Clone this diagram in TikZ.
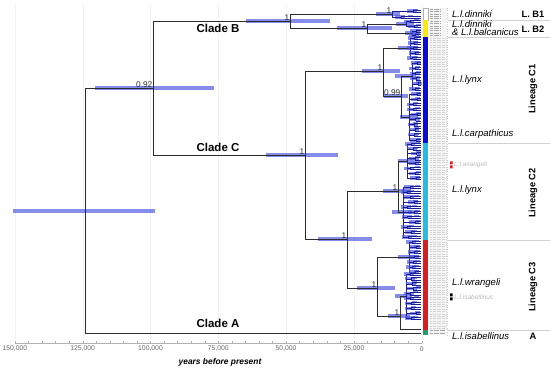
\documentclass[tikz,border=0pt]{standalone}
\usepackage{fontspec}
\setmainfont{Liberation Sans}
\definecolor{barc}{RGB}{75,85,222}
\definecolor{linec}{RGB}{45,45,45}
\definecolor{tipc}{RGB}{25,30,150}
\definecolor{stripblue}{RGB}{10,10,220}
\definecolor{stripcyan}{RGB}{30,190,230}
\definecolor{stripred}{RGB}{225,25,30}
\definecolor{stripyel}{RGB}{250,235,0}
\definecolor{stripgrn}{RGB}{30,160,100}
\tikzset{
 br/.style={draw=linec, line width=0.8pt},
 tipl/.style={draw=tipc, line width=0.45pt},
 cib/.style={fill=barc, fill opacity=0.68},
 supp/.style={font=\fontsize{8.3}{8}\selectfont, text=linec, inner sep=0.5pt, anchor=south east},
 clade/.style={font=\fontsize{11.5}{12}\selectfont\bfseries, inner sep=0},
 taxon/.style={font=\fontsize{9.5}{8.5}\selectfont\itshape, anchor=west, inner sep=0, align=left},
 minortax/.style={font=\fontsize{6.5}{7}\selectfont\itshape, text=gray!55, anchor=west, inner sep=0},
 lin/.style={font=\fontsize{9.3}{10}\selectfont\bfseries, inner sep=0},
 axl/.style={font=\fontsize{6.8}{7}\selectfont, text=gray!80!black, inner sep=0},
 sepl/.style={draw=gray!35, line width=0.4pt},
}
\newcommand\cibar[3]{\fill[cib] (#1,#3-2.3) rectangle (#2,#3+2.3);}
\newcommand\clumpdraw[3]{%
  \draw[tipl] (#1,#2-#3) -- (#1,#2+#3);
  \pgfmathtruncatemacro\npair{max(1,round(2*#3/5))}
  \foreach \k in {0,...,\npair}{
    \pgfmathsetmacro\ycc{#2-#3+2*#3*\k/\npair}
    \pgfmathsetmacro\xq{#1+(419-#1)*(0.25+0.6*rnd)}
    \pgfmathsetmacro\xr{\xq+(420-\xq)*(0.3+0.5*rnd)}
    \fill[cib] (\xq-6,\ycc-1.6) rectangle (\xq+4,\ycc+1.6);
    \fill[cib] (\xr-3,\ycc-2.3) rectangle (\xr+2,\ycc-0.1);
    \draw[tipl] (#1,\ycc) -- (\xq,\ycc) (\xq,\ycc-1.2) -- (\xq,\ycc+1.2)
      (\xq,\ycc-1.2) -- (421,\ycc-1.2) (\xq,\ycc+1.2) -- (421,\ycc+1.2);
  }}
\begin{document}
\begin{tikzpicture}[x=1pt,y=-1pt]
\useasboundingbox (0,0) rectangle (550,374);
\pgfmathsetseed{7}
% faint grid
\foreach \k in {0,...,6}{\draw[gray!10,line width=0.3pt] (421.7-67.8*\k,4) -- (421.7-67.8*\k,339);}
% tree nodes
\coordinate (root) at (85,211);
\coordinate (n092) at (153,88);
\coordinate (nB) at (290,21);
\coordinate (nB1) at (392,14);
\coordinate (nB2) at (367,28);
\coordinate (b2a) at (406,24);
\coordinate (b2b) at (412,33);
\coordinate (nC) at (305,155);
\coordinate (nC1) at (383,71);
\coordinate (c1a) at (410,48);
\coordinate (n099) at (401,96);
\coordinate (c1b) at (412,76);
\coordinate (c1c) at (409,117);
\coordinate (nC23) at (347,239);
\coordinate (nC2) at (398,191);
\coordinate (c2a) at (407,161);
\coordinate (c2b) at (403,212);
\coordinate (nC3) at (377,288);
\coordinate (c3a) at (409,257);
\coordinate (c3b) at (400,316);
\coordinate (c3d) at (406,296);
\coordinate (kr) at (421,329);
\coordinate (tipA) at (421,333);
% credibility bars
\cibar{13}{155}{211}
\cibar{95}{214}{88}
\cibar{246}{330}{21}
\cibar{376}{400}{14}
\cibar{337}{392}{28}
\cibar{266}{338}{155}
\cibar{362}{400}{71}
\cibar{384}{408}{96}
\cibar{318}{372}{239}
\cibar{383}{411}{191}
\cibar{357}{395}{288}
\cibar{388}{410}{316}
\cibar{396}{414}{24}
\cibar{405}{418}{33}
\cibar{398}{418}{48}
\cibar{395}{416}{76}
\cibar{400}{418}{117}
\cibar{398}{415}{161}
\cibar{392}{412}{212}
\cibar{398}{415}{257}
\cibar{395}{412}{296}
% branches
\draw[br] (root) |- (n092) (root) |- (tipA);
\draw[br] (n092) |- (nB) (n092) |- (nC);
\draw[br] (nB) |- (nB1) (nB) |- (nB2);
\draw[br] (nB2) |- (b2a) (nB2) |- (b2b);
\draw[br] (nC) |- (nC1) (nC) |- (nC23);
\draw[br] (nC1) |- (c1a) (nC1) |- (n099);
\draw[br] (n099) |- (c1b) (n099) |- (c1c);
\draw[br] (nC23) |- (nC2) (nC23) |- (nC3);
\draw[br] (nC2) |- (c2a) (nC2) |- (c2b);
\draw[br] (nC3) |- (c3a) (nC3) |- (c3b);
\draw[br] (c3b) |- (c3d) (c3b) |- (kr);
% tip clumps
\clumpdraw{392}{14}{3}
\clumpdraw{406}{24}{2.5}
\clumpdraw{412}{33}{2}
\clumpdraw{410}{48}{10}
\clumpdraw{412}{76}{13}
\clumpdraw{409}{117}{23}
\clumpdraw{407}{161}{17}
\clumpdraw{403}{212}{25}
\clumpdraw{409}{257}{15}
\clumpdraw{406}{296}{22}
% support values
\node[supp] (s092) at (n092) {0.92};
\node[supp] (sB) at (nB) {1};
\node[supp] (sB1) at (nB1) {1};
\node[supp] (sB2) at (nB2) {1};
\node[supp] (sC) at (nC) {1};
\node[supp] (sC1) at (nC1) {1};
\node[supp] (s099) at (n099) {0.99};
\node[supp] (sC23) at (nC23) {1};
\node[supp] (sC2) at (nC2) {1};
\node[supp] (sC3) at (nC3) {1};
\node[supp] (sC3b) at (c3b) {1};
% clade labels
\node[clade] (cladeB) at (218,28) {Clade B};
\node[clade] (cladeC) at (218,147.5) {Clade C};
\node[clade] (cladeA) at (218,323.5) {Clade A};
% colour strip
\draw[gray!60,line width=0.3pt,fill=white] (423,8) rectangle (428,20);
\fill[stripyel] (423,20) rectangle (428,37);
\fill[stripblue] (423,37) rectangle (428,143);
\fill[stripcyan] (423,143) rectangle (428,240);
\fill[stripred] (423,240) rectangle (428,330);
\fill[stripgrn] (423,330) rectangle (428,335);
% sample-label column
\fill[gray!8] (429,8) rectangle (447,335);
\foreach \r in {0,...,135}{
  \pgfmathsetmacro\yr{9+2.4*\r}
  \ifnum\r<12 \draw[gray!70,line width=0.35pt,dash pattern=on 0.7pt off 0.5pt] (430,\yr) -- (440,\yr);
  \else\ifnum\r>133 \draw[gray!70,line width=0.35pt,dash pattern=on 0.7pt off 0.5pt] (430,\yr) -- (445,\yr);
  \else \draw[gray!32,line width=0.45pt,dash pattern=on 0.9pt off 0.4pt] (430,\yr) -- (446,\yr);\fi\fi
}
\draw[gray!40,line width=0.3pt,dotted] (447,8) -- (447,335);
% separators
\draw[sepl] (448,20) -- (550,20);
\draw[sepl] (448,37) -- (550,37);
\draw[sepl] (448,143) -- (550,143);
\draw[sepl] (448,240) -- (550,240);
\draw[sepl] (448,330) -- (550,330);
% taxon labels
\node[taxon] (t1) at (452,14) {L.l.dinniki};
\node[taxon] (t2) at (452,28) {L.l.dinniki\\\& L.l.balcanicus};
\node[taxon] (t3) at (452,80) {L.l.lynx};
\node[taxon] (t4) at (452,134) {L.l.carpathicus};
\node[taxon] (t5) at (452,190) {L.l.lynx};
\node[taxon] (t6) at (452,283) {L.l.wrangeli};
\node[taxon] (t7) at (452,336) {L.l.isabellinus};
\fill[stripred] (450,161.5) rectangle (452.5,164.5) (450,165.5) rectangle (452.5,168.5);
\node[minortax] (m1) at (454,165) {L.l.wrangeli};
\fill[black] (450,293.5) rectangle (452.5,296.5) (450,297.5) rectangle (452.5,300.5);
\node[minortax] (m2) at (454,297) {L.l.isabellinus};
% lineage labels
\node[lin] (LB1) at (533,14) {L. B1};
\node[lin] (LB2) at (533,29) {L. B2};
\node[lin,rotate=90] (LC1) at (533,89) {Lineage C1};
\node[lin,rotate=90] (LC2) at (533,193) {Lineage C2};
\node[lin,rotate=90] (LC3) at (533,287) {Lineage C3};
\node[lin] (LA) at (533,336) {A};
% axis
\draw[gray!60,line width=0.5pt] (15,343) -- (421.7,343);
\foreach \k in {0,...,30}{\draw[gray!60,line width=0.4pt] (421.7-13.56*\k,343) -- (421.7-13.56*\k,341.5);}
\foreach \k/\lab in {0/0,1/{25,000},2/{50,000},3/{75,000},4/{100,000},5/{125,000},6/{150,000}}{
  \node[axl] at (421.7-67.8*\k,349) {\lab};}
\node[font=\fontsize{8.4}{9}\selectfont\bfseries\itshape, inner sep=0] (axtitle) at (220,362) {years before present};
\end{tikzpicture}
\end{document}
